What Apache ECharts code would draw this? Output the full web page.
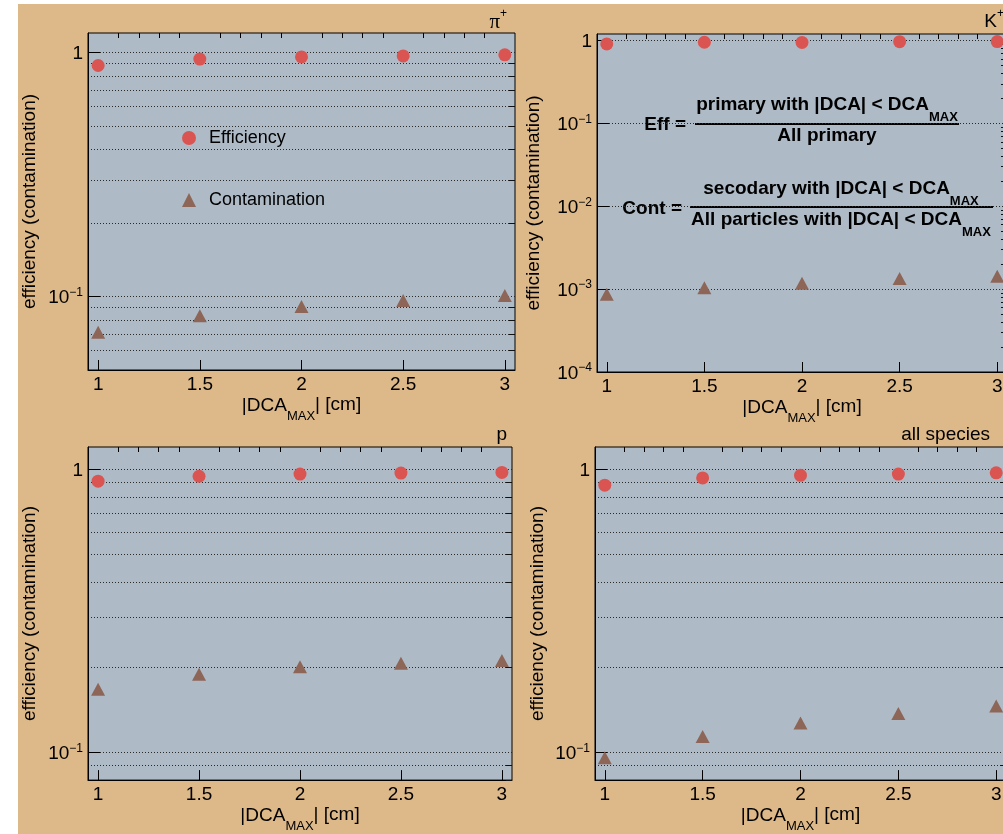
<!DOCTYPE html>
<html><head><meta charset="utf-8">
<script src="https://cdn.jsdelivr.net/npm/echarts@6/dist/echarts.min.js"></script>
<style>
html,body{margin:0;padding:0;background:#fff;overflow:hidden;width:1003px;height:834px;}
#c{position:absolute;left:18px;top:4px;width:1000px;height:830px;}
</style></head><body><div id="c"></div>
<script>
// ---- data ----
const xValues = [1, 1.5, 2, 2.5, 3];
const piEff = [0.883, 0.938, 0.958, 0.967, 0.977];
const piCont = [0.0714, 0.0833, 0.0911, 0.0963, 0.101];
const kEff = [0.912, 0.954, 0.950, 0.970, 0.972];
const kCont = [0.00087, 0.00104, 0.00118, 0.00134, 0.00143];
const pEff = [0.909, 0.946, 0.963, 0.971, 0.976];
const pCont = [0.1675, 0.189, 0.201, 0.207, 0.2115];
const allEff = [0.880, 0.933, 0.953, 0.963, 0.973];
const allCont = [0.0959, 0.1141, 0.1272, 0.1375, 0.146];
const seriesNames = ['Efficiency', 'Contamination'];
const panelLabels = ['{g|π}{s|+}', '{m|K}{s|+}', '{m|p}', '{m|all species}'];
const xTickLabels = [1, 1.5, 2, 2.5, 3];
const xMinorTicks = [1.1,1.2,1.3,1.4,1.6,1.7,1.8,1.9,2.1,2.2,2.3,2.4,2.6,2.7,2.8,2.9];
const yMajorA = [0.1, 1];
const yMinorA = [0.06,0.07,0.08,0.09,0.2,0.3,0.4,0.5,0.6,0.7,0.8,0.9];
const yMajorK = [0.0001, 0.001, 0.01, 0.1, 1];
const yMinorK = [0.0002,0.0003,0.0004,0.0005,0.0006,0.0007,0.0008,0.0009,
                 0.002,0.003,0.004,0.005,0.006,0.007,0.008,0.009,
                 0.02,0.03,0.04,0.05,0.06,0.07,0.08,0.09,
                 0.2,0.3,0.4,0.5,0.6,0.7,0.8,0.9];
const yRanges = [[0.05, 1.2], [0.0001, 1.2], [0.08, 1.2], [0.08, 1.2]];
const xRange = [0.95, 3.05];

// ---- style ----
const FONT = 'Liberation Sans';
const BEIGE = '#DDB888', PLOTBG = '#AEBBC7', RED = '#DA5552', BROWN = '#8D6657';
const grids = [
  {left: 70, top: 29, width: 427, height: 337},
  {left: 579, top: 30, width: 410, height: 338},
  {left: 70, top: 443, width: 424, height: 339},
  {left: 577, top: 443, width: 411, height: 339}
];
const yNameGaps = [49, 54, 49, 48];
const xNameGaps = [20, 20, 22, 22];
const panels = [
  {eff: piEff, cont: piCont, maj: yMajorA, min: yMinorA, minGrid: true},
  {eff: kEff, cont: kCont, maj: yMajorK, min: yMinorK, minGrid: false},
  {eff: pEff, cont: pCont, maj: yMajorA, min: yMinorA, minGrid: true},
  {eff: allEff, cont: allCont, maj: yMajorA, min: yMinorA, minGrid: true}
];

function yLab(v) {
  const e = Math.round(Math.log10(v));
  return e === 0 ? '{m|1}' : '{m|10}{s|\u2212' + (-e) + '}';
}
const dotted = {color: '#2a2a2a', width: 1, type: [1, 2]};

const gridOpt = [], xAxes = [], yAxes = [], series = [];
panels.forEach((p, i) => {
  gridOpt.push(Object.assign({show: true, backgroundColor: PLOTBG, borderColor: '#000', borderWidth: 1}, grids[i]));
  xAxes.push({
    type: 'value', gridIndex: i, min: xRange[0], max: xRange[1],
    axisLine: {show: true, lineStyle: {color: '#000'}},
    axisTick: {show: true, inside: true, length: 10, customValues: xTickLabels, lineStyle: {color: '#000'}},
    axisLabel: {customValues: xTickLabels, fontFamily: FONT, fontSize: 19, color: '#000', margin: 5},
    splitLine: {show: false},
    name: '|DCA{s|MAX}{m|| [cm]}', nameLocation: 'middle', nameGap: xNameGaps[i],
    nameTextStyle: {fontFamily: FONT, fontSize: 19, color: '#000', verticalAlign: 'top',
      rich: {m: {fontFamily: FONT, fontSize: 19, color: '#000', lineHeight: 22, verticalAlign: 'top'},
             s: {fontFamily: FONT, fontSize: 13, color: '#000', lineHeight: 14, padding: [15, 0, 0, 0], verticalAlign: 'top'}}}
  });
  xAxes.push({
    type: 'value', gridIndex: i, min: xRange[0], max: xRange[1],
    axisLine: {show: false},
    axisTick: {show: true, inside: true, length: 5, customValues: xMinorTicks, lineStyle: {color: '#000'}},
    axisLabel: {show: false}, splitLine: {show: false}
  });
  yAxes.push({
    type: 'log', gridIndex: i, min: yRanges[i][0], max: yRanges[i][1],
    axisLine: {show: true, lineStyle: {color: '#000'}},
    axisTick: {show: true, inside: true, length: 12, customValues: p.maj, lineStyle: {color: '#000'}},
    axisLabel: {customValues: p.maj, formatter: yLab, margin: 5,
      rich: {m: {fontFamily: FONT, fontSize: 19, color: '#000', lineHeight: 20, padding: [2, 0, 0, 0], verticalAlign: 'top'},
             s: {fontFamily: FONT, fontSize: 12, color: '#000', lineHeight: 13, verticalAlign: 'top'}}},
    splitLine: {show: true, lineStyle: dotted},
    minorTick: {show: false},
    name: 'efficiency (contamination)', nameLocation: 'middle', nameGap: yNameGaps[i],
    nameTextStyle: {fontFamily: FONT, fontSize: 19, color: '#000'}
  });
  yAxes.push({
    type: 'log', gridIndex: i, min: yRanges[i][0], max: yRanges[i][1],
    axisLine: {show: false},
    axisTick: {show: true, inside: true, length: 6, customValues: p.min, lineStyle: {color: '#111'}},
    axisLabel: {show: false},
    splitLine: {show: p.minGrid, lineStyle: dotted}
  });
  series.push({
    name: seriesNames[0], type: 'scatter', xAxisIndex: 2 * i, yAxisIndex: 2 * i,
    symbol: 'circle', symbolSize: 13, itemStyle: {color: RED, opacity: 1},
    data: xValues.map((x, k) => [x, p.eff[k]]), z: 5
  });
  series.push({
    name: seriesNames[1], type: 'scatter', xAxisIndex: 2 * i, yAxisIndex: 2 * i,
    symbol: 'triangle', symbolSize: [14, 13], itemStyle: {color: BROWN, opacity: 1},
    data: xValues.map((x, k) => [x, p.cont[k]]), z: 5
  });
});

// panel labels (right aligned above each pad)
const labelPos = [[489, 15], [986, 15], [489, 428], [972, 428]];
const labelRich = {
  m: {fontFamily: FONT, fontSize: 19, fill: '#000', lineHeight: 22, verticalAlign: 'top', padding: [4, 0, 0, 0]},
  g: {fontFamily: 'Liberation Serif', fontSize: 21, fill: '#000', lineHeight: 22, verticalAlign: 'top', padding: [4, 0, 0, 0]},
  s: {fontFamily: FONT, fontSize: 12, fill: '#000', lineHeight: 13, verticalAlign: 'top'}
};
const graphics = panelLabels.map((t, i) => ({
  type: 'text', x: labelPos[i][0], y: labelPos[i][1],
  style: {text: t, rich: labelRich, align: 'right', verticalAlign: 'middle', fill: '#000'}
}));

// formulas in the K+ pad
const fr = {
  m: {fontFamily: FONT, fontSize: 19, fontWeight: 'bold', fill: '#000', lineHeight: 22, verticalAlign: 'top'},
  s: {fontFamily: FONT, fontSize: 13, fontWeight: 'bold', fill: '#000', lineHeight: 14, padding: [16, 0, 0, 0], verticalAlign: 'top'}
};
function ftext(x, y, t, align) {
  return {type: 'text', x: x, y: y, style: {text: t, rich: fr, align: align, verticalAlign: 'top', fill: '#000'}};
}
graphics.push(
  ftext(668, 111, '{m|Eff =}', 'right'),
  ftext(809, 91, '{m|primary with |DCA| < DCA}{s|MAX}', 'center'),
  {type: 'line', shape: {x1: 677, y1: 120, x2: 941, y2: 120}, style: {stroke: '#000', lineWidth: 2}},
  ftext(809, 122, '{m|All primary}', 'center'),
  ftext(664, 195, '{m|Cont =}', 'right'),
  ftext(823, 175, '{m|secodary with |DCA| < DCA}{s|MAX}', 'center'),
  {type: 'line', shape: {x1: 672, y1: 203, x2: 975, y2: 203}, style: {stroke: '#000', lineWidth: 2}},
  ftext(823, 206, '{m|All particles with |DCA| < DCA}{s|MAX}', 'center')
);

const chart = echarts.init(document.getElementById('c'), null, {renderer: 'canvas'});
chart.setOption({
  animation: false,
  backgroundColor: BEIGE,
  textStyle: {fontFamily: FONT},
  grid: gridOpt, xAxis: xAxes, yAxis: yAxes, series: series,
  legend: {
    data: seriesNames, orient: 'vertical', left: 164, top: 124, padding: 0,
    itemWidth: 14, itemHeight: 14, itemGap: 42,
    textStyle: {fontFamily: FONT, fontSize: 18, color: '#000', lineHeight: 20, padding: [0, 0, 0, 8]}
  },
  graphic: graphics
});
</script></body></html>
